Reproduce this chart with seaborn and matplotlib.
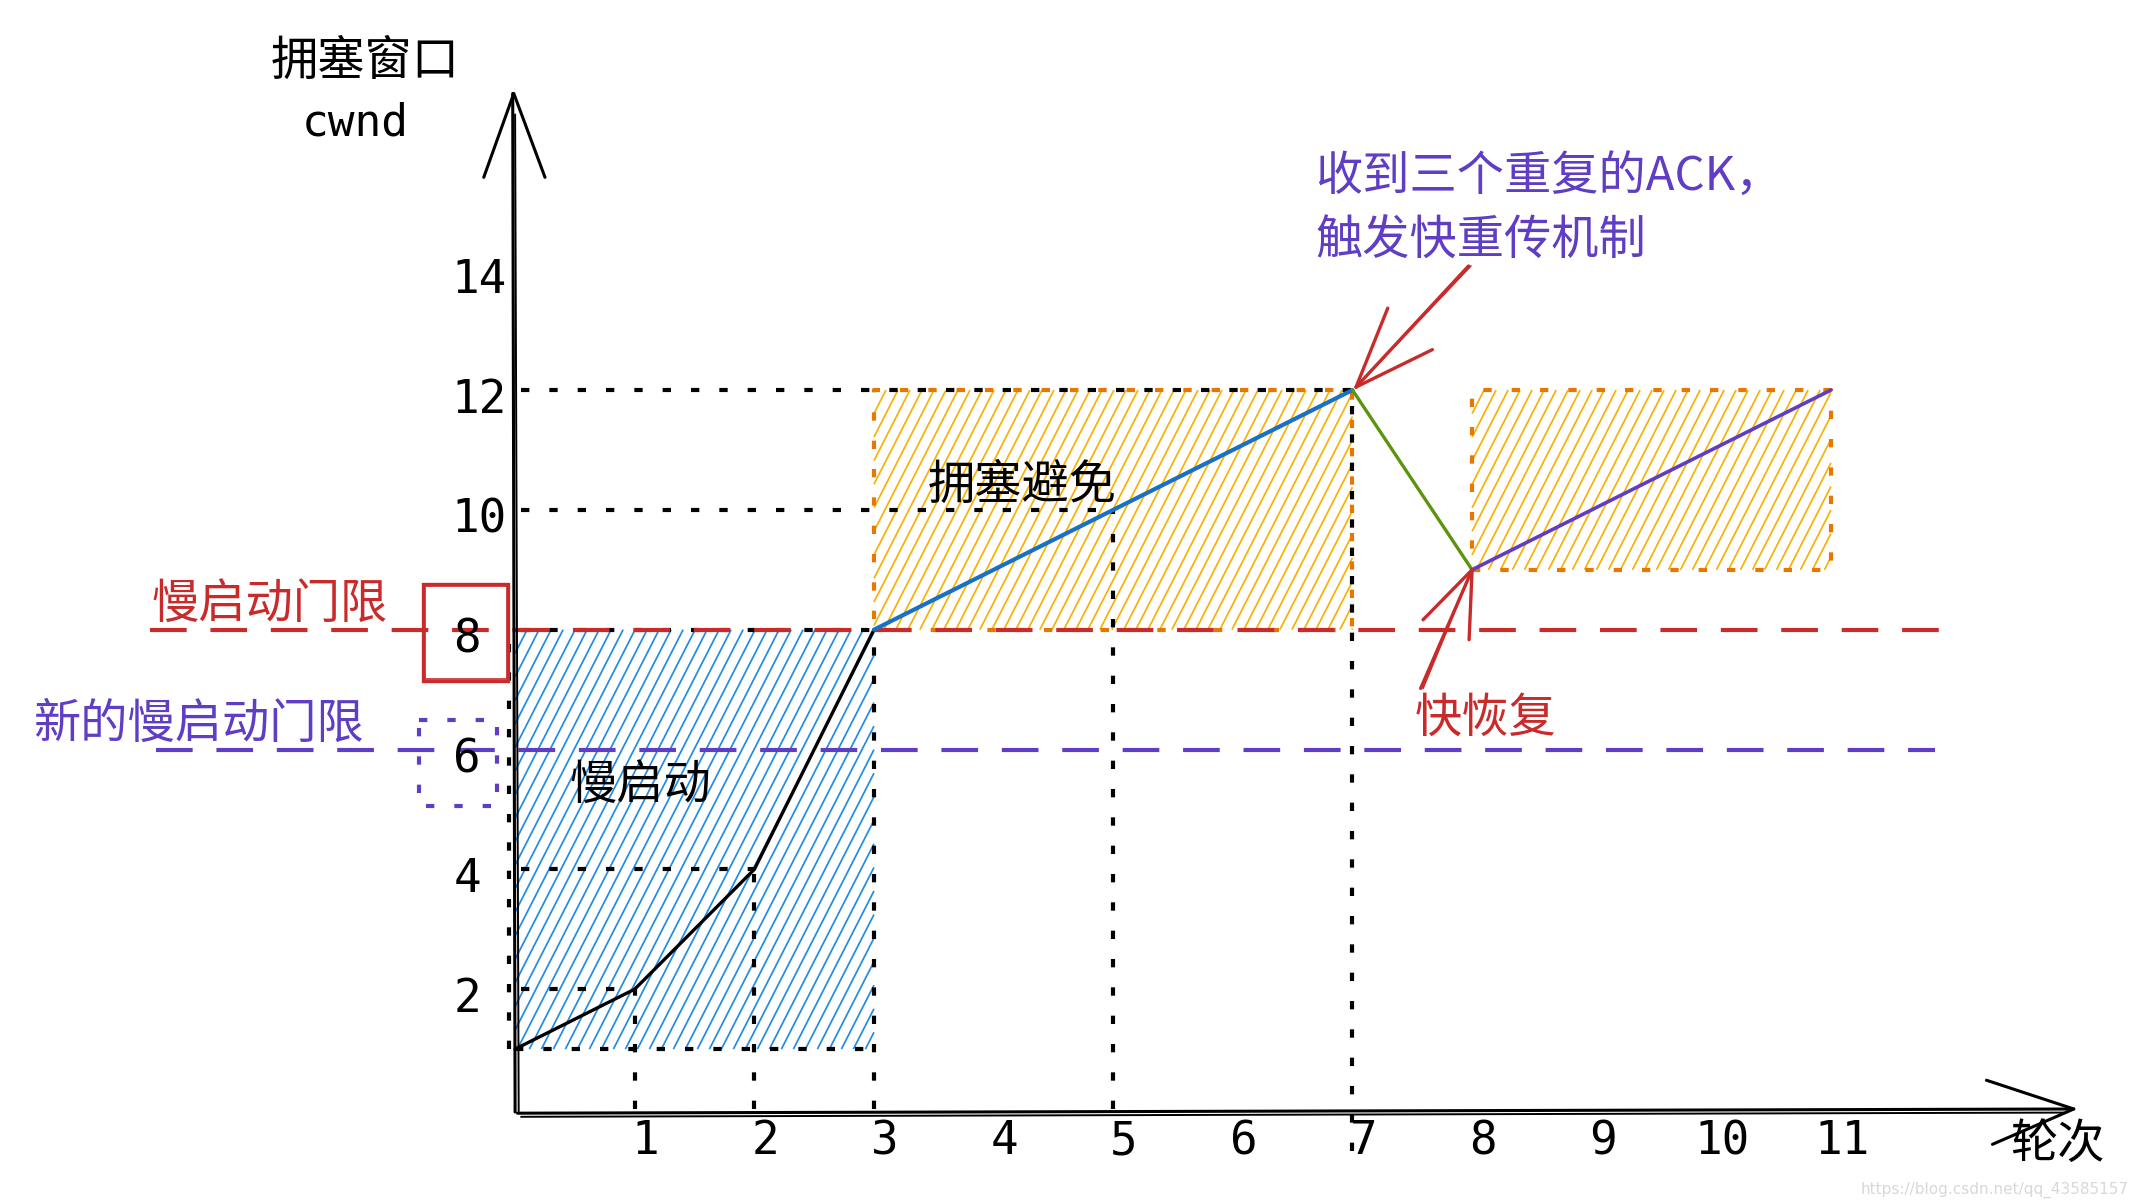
import numpy as np
import pandas as pd
import matplotlib
matplotlib.use("Agg")
import matplotlib.pyplot as plt
import seaborn as sns
from matplotlib.patches import Rectangle
from matplotlib.collections import LineCollection

sns.set_theme(style="white")
plt.rcParams["font.family"] = ["Noto Sans CJK SC", "DejaVu Sans"]

# ---------------- data ----------------
slow_rounds = [0, 1, 2, 3]
slow_cwnd = [1, 2, 4, 8]
avoid_rounds = [3, 7]
avoid_cwnd = [8, 12]
drop_rounds = [7, 8]
drop_cwnd = [12, 9]
recover_rounds = [8, 11]
recover_cwnd = [9, 12]
ssthresh = 8
new_ssthresh = 6
x_tick_values = [1, 2, 3, 4, 5, 6, 7, 8, 9, 10, 11]
y_tick_values = [2, 4, 6, 8, 10, 12, 14]
guide_rounds = [1, 2, 3, 5, 7]
guide_cwnd = [2, 4, 8, 10, 12]
# regions: (round start, round end, cwnd low, cwnd high)
slow_region = (0, 3, 1, 8)
avoid_region = (3, 7, 8, 12)
recover_region = (8, 11, 9, 12)

RED = "#c92a2a"
PURPLE = "#5f3dc4"
BLUE_LINE = "#1971c2"
BLUE_HATCH = "#228be6"
ORANGE_HATCH = "#fab005"
ORANGE_EDGE = "#e67700"
GREEN = "#5c940d"

# ---------------- figure ----------------
fig = plt.figure(figsize=(21.36, 12.03), dpi=100)
ax = fig.add_axes([0, 0, 1, 1])
XL = (-4.306, 13.55)
YL = (-1.569, 18.51)
ax.set_xlim(*XL)
ax.set_ylim(*YL)
ax.axis("off")
SX = 2136 / (XL[1] - XL[0])
SY = 1203 / (YL[1] - YL[0])

DOT = (0, (2.0, 4.8))
DOT_LW = 3.0


def hachure(region, color, edge, angle=63, spacing_px=12, edge_on=True):
    x0, x1, y0, y1 = region
    slope = np.tan(np.radians(angle)) * SX / SY  # dy/dx in data units
    span = (y1 - y0) / slope
    step = spacing_px / SX
    starts = np.arange(x0 - span, x1 + step, step)
    segs = []
    for s in starts:
        ya = max(y0, y0 + (x0 - s) * slope)
        yb = min(y1, y0 + (x1 - s) * slope)
        if yb > ya:
            segs.append([(s + (ya - y0) / slope, ya), (s + (yb - y0) / slope, yb)])
    lc = LineCollection(segs, colors=color, linewidths=1.25, zorder=1)
    ax.add_collection(lc)
    if edge_on:
        ax.plot([x0, x1, x1, x0, x0], [y0, y0, y1, y1, y0], color=edge, lw=DOT_LW,
                ls=DOT, zorder=2)


hachure(slow_region, BLUE_HATCH, "black", edge_on=False)
hachure(avoid_region, ORANGE_HATCH, ORANGE_EDGE)
hachure(recover_region, ORANGE_HATCH, ORANGE_EDGE)

# black dotted border parts of slow-start region
x0, x1, y0, y1 = slow_region
ax.plot([x0, x1], [y0, y0], color="black", lw=DOT_LW, ls=DOT, zorder=3)
ax.plot([x0 - 0.05, x0 - 0.05], [y0, y1], color="black", lw=DOT_LW, ls=DOT, zorder=3)

# guide dotted lines
for r, c in zip(guide_rounds, guide_cwnd):
    ax.plot([0.05, r], [c, c], color="black", lw=DOT_LW, ls=DOT, zorder=3)
    bottom = -0.7 if r == 7 else 0
    ax.plot([r, r], [bottom, c], color="black", lw=DOT_LW, ls=DOT, zorder=3)

# thresholds
ax.plot([-3.05, 12.0], [ssthresh, ssthresh], color=RED, lw=3, ls=(0, (8.8, 5.7)), zorder=4)
ax.plot([-3.0, 11.87], [new_ssthresh, new_ssthresh], color=PURPLE, lw=3,
        ls=(0, (8.8, 5.7)), zorder=4)

# cwnd curves
sns.lineplot(data=pd.DataFrame({"r": slow_rounds, "c": slow_cwnd}), x="r", y="c",
             sort=False, color="black", lw=2.4, ax=ax, zorder=5)
sns.lineplot(data=pd.DataFrame({"r": avoid_rounds, "c": avoid_cwnd}), x="r", y="c",
             sort=False, color=BLUE_LINE, lw=3, ax=ax, zorder=5)
sns.lineplot(data=pd.DataFrame({"r": drop_rounds, "c": drop_cwnd}), x="r", y="c",
             sort=False, color=GREEN, lw=2.4, ax=ax, zorder=5)
sns.lineplot(data=pd.DataFrame({"r": recover_rounds, "c": recover_cwnd}), x="r", y="c",
             sort=False, color=PURPLE, lw=2.6, ax=ax, zorder=5)
ax.set_xlim(*XL)
ax.set_ylim(*YL)
ax.axis("off")

# axes (hand-drawn double strokes)
ax.plot([0.0, -0.02], [-0.05, 16.95], color="black", lw=2.2, zorder=6)
ax.plot([0.03, 0.0], [-0.05, 16.6], color="black", lw=1.4, zorder=6)
ax.plot([-0.262, -0.011, 0.25], [15.55, 16.95, 15.55], color="black", lw=2.2, zorder=6)
ax.plot([0.02, 13.03], [-0.07, 0.0], color="black", lw=2.2, zorder=6)
ax.plot([0.05, 12.95], [-0.13, -0.06], color="black", lw=1.4, zorder=6)
ax.plot([12.30, 13.03, 12.35], [0.48, 0.0, -0.59], color="black", lw=2.2, zorder=6)

# tick labels
MONO = ["DejaVu Sans Mono"]
for v in x_tick_values:
    ax.text(v + 0.09, -0.55, str(v), family=MONO, fontsize=33, ha="center",
            va="center", color="black", zorder=7)
for v in y_tick_values:
    xc = -0.30 if v >= 10 else -0.40
    ax.text(xc, v - 0.17, str(v), family=MONO, fontsize=33, ha="center",
            va="center", color="black", zorder=7)

# boxes around threshold values
ax.add_patch(Rectangle((-0.77, 7.14), 0.71, 1.63, facecolor="none", edgecolor=RED,
                       lw=2.4, zorder=6))
ax.add_patch(Rectangle((-0.75, 7.18), 0.68, 1.55, facecolor="none", edgecolor=RED,
                       lw=1.2, zorder=6))
ax.plot([-0.80, -0.15, -0.15, -0.80, -0.80], [6.5, 6.5, 5.05, 5.05, 6.5], color=PURPLE,
        lw=DOT_LW, ls=DOT, zorder=6)


# arrows
def sketch_arrow(tail, tip, color, head_px, spread=21, lw=2.4):
    (tx, ty), (hx, hy) = tail, tip
    ax.plot([tx, hx], [ty, hy], color=color, lw=lw, zorder=8)
    ax.plot([tx + 0.02, hx], [ty, hy], color=color, lw=1.2, zorder=8)
    ang = np.arctan2((ty - hy) * SY, (tx - hx) * SX)
    for s in (-1, 1):
        a = ang + s * np.radians(spread)
        ex = hx + head_px * np.cos(a) / SX
        ey = hy + head_px * np.sin(a) / SY
        ax.plot([ex, hx], [ey, hy], color=color, lw=lw, zorder=8)


sketch_arrow((7.97, 14.07), (7.03, 12.05), RED, 85)
sketch_arrow((7.57, 7.02), (8.0, 9.0), RED, 70)

# texts
CJK = 34
ax.text(-1.25, 17.48, "拥塞窗口", fontsize=CJK, ha="center", va="center", color="black")
ax.text(-1.34, 16.45, "cwnd", family=MONO, fontsize=32, ha="center", va="center",
        color="black")
ax.text(-2.05, 8.42, "慢启动门限", fontsize=CJK, ha="center", va="center", color=RED)
ax.text(-2.65, 6.42, "新的慢启动门限", fontsize=CJK, ha="center", va="center", color=PURPLE)
ax.text(1.05, 5.39, "慢启动", fontsize=CJK, ha="center", va="center", color="black",
        zorder=7)
ax.text(4.24, 10.41, "拥塞避免", fontsize=CJK, ha="center", va="center", color="black",
        zorder=7)
ax.text(6.69, 15.55, "收到三个重复的ACK，", fontsize=CJK, ha="left", va="center",
        color=PURPLE)
ax.text(6.69, 14.48, "触发快重传机制", fontsize=CJK, ha="left", va="center", color=PURPLE)
ax.text(8.11, 6.52, "快恢复", fontsize=CJK, ha="center", va="center", color=RED)
ax.text(12.89, -0.59, "轮次", fontsize=CJK, ha="center", va="center", color="black")
ax.text(13.49, -1.35, "https://blog.csdn.net/qq_43585157", fontsize=11, ha="right",
        va="center", color="#d8d8d8", family=["DejaVu Sans"])

fig.savefig("out.png", dpi=100)
